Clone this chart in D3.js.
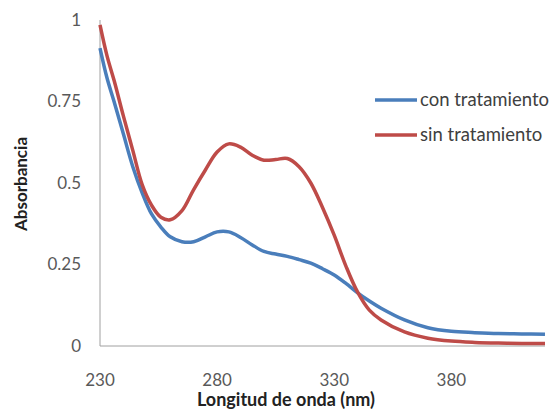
<!DOCTYPE html>
<html>
<head>
<meta charset="utf-8">
<script src="https://cdn.jsdelivr.net/npm/d3@7"></script>
<style>
body { margin: 0; background: #fff; }
svg { font-family: Lato, "Open Sans", sans-serif; }
</style>
</head>
<body>
<svg width="554" height="410"></svg>
<script>
// wavelength grid (nm)
var wavelengths = [230, 233, 236, 240, 244, 248, 252, 256, 260, 265, 270, 275, 280, 285, 290, 295, 300, 305,
    310, 315, 320, 325, 330, 335, 340, 345, 350, 360, 370, 380, 390, 400, 410, 420];
var conTratamiento = [0.914, 0.822, 0.75, 0.65, 0.55, 0.47, 0.405, 0.365, 0.335, 0.32, 0.32, 0.335, 0.35, 0.35,
    0.333, 0.31, 0.29, 0.282, 0.275, 0.265, 0.254, 0.237, 0.218, 0.192, 0.163, 0.138, 0.116, 0.08, 0.056, 0.045,
    0.041, 0.038, 0.037, 0.036];
var sinTratamiento = [0.985, 0.89, 0.815, 0.705, 0.6, 0.495, 0.432, 0.395, 0.387, 0.415, 0.48, 0.54, 0.595, 0.62,
    0.61, 0.585, 0.57, 0.572, 0.575, 0.55, 0.5, 0.425, 0.34, 0.245, 0.165, 0.11, 0.08, 0.043, 0.024, 0.015,
    0.011, 0.009, 0.008, 0.008];
var xTicks = [230, 280, 330, 380];
var yTicks = [0, 0.25, 0.5, 0.75, 1];
var seriesNames = ['con tratamiento', 'sin tratamiento'];
var seriesColors = ['#4a7ebb', '#be4b48'];

var svg = d3.select('svg');
var plotLeft = 100, plotRight = 545, plotTop = 20, plotBottom = 346;

var x = d3.scaleLinear().domain([230, 420]).range([plotLeft, plotRight]);
var y = d3.scaleLinear().domain([0, 1]).range([plotBottom, plotTop]);

// axes
svg.append('line')
    .attr('x1', plotLeft).attr('x2', plotLeft)
    .attr('y1', plotTop).attr('y2', plotBottom)
    .attr('stroke', '#a0a0a0');
svg.append('line')
    .attr('x1', plotLeft).attr('x2', plotRight)
    .attr('y1', plotBottom).attr('y2', plotBottom)
    .attr('stroke', '#a0a0a0');

svg.selectAll('.ytick')
    .data(yTicks)
    .enter().append('text')
    .attr('x', 81)
    .attr('y', function(d) { return y(d); })
    .attr('dy', '0.35em')
    .attr('text-anchor', 'end')
    .attr('font-size', 17)
    .attr('fill', '#595959')
    .text(function(d) { return d; });

svg.selectAll('.xtick')
    .data(xTicks)
    .enter().append('text')
    .attr('x', function(d) { return x(d); })
    .attr('y', 380)
    .attr('dy', '0.35em')
    .attr('text-anchor', 'middle')
    .attr('font-size', 17)
    .attr('fill', '#595959')
    .text(function(d) { return d; });

svg.append('text')
    .attr('x', 286).attr('y', 400)
    .attr('dy', '0.35em')
    .attr('text-anchor', 'middle')
    .attr('font-size', 18)
    .attr('font-weight', 'bold')
    .attr('fill', '#222')
    .text('Longitud de onda (nm)');

svg.append('text')
    .attr('transform', 'translate(21,184) rotate(-90)')
    .attr('dy', '0.35em')
    .attr('text-anchor', 'middle')
    .attr('font-size', 17)
    .attr('font-weight', 'bold')
    .attr('fill', '#222')
    .text('Absorbancia');

// lines
var line = d3.line()
    .x(function(d) { return x(d[0]); })
    .y(function(d) { return y(d[1]); })
    .curve(d3.curveCatmullRom);

[conTratamiento, sinTratamiento].forEach(function(values, i) {
    svg.append('path')
        .datum(d3.zip(wavelengths, values))
        .attr('d', line)
        .attr('fill', 'none')
        .attr('stroke', seriesColors[i])
        .attr('stroke-width', 3.5)
        .attr('stroke-linejoin', 'round');
});

// legend
var legend = svg.selectAll('.legend')
    .data(seriesNames)
    .enter().append('g')
    .attr('transform', function(d, i) { return 'translate(375,' + (100 + i * 35) + ')'; });
legend.append('line')
    .attr('x1', 0).attr('x2', 42)
    .attr('stroke', function(d, i) { return seriesColors[i]; })
    .attr('stroke-width', 3.5);
legend.append('text')
    .attr('x', 45)
    .attr('dy', '0.35em')
    .attr('font-size', 18.5)
    .attr('fill', '#404040')
    .text(function(d) { return d; });
</script>
</body>
</html>
